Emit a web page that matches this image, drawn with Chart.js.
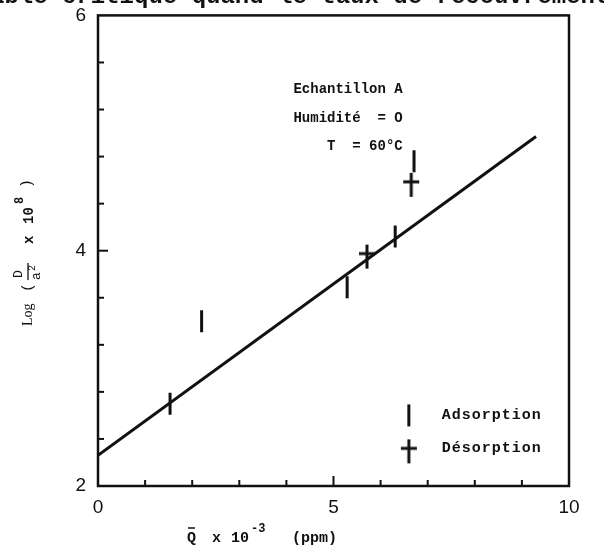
<!DOCTYPE html>
<html>
<head>
<meta charset="utf-8">
<script src="https://cdn.jsdelivr.net/npm/chart.js@4.4.1/dist/chart.umd.min.js"></script>
<style>
html,body{margin:0;padding:0;background:#fff;}
#wrap{width:604px;height:549px;}
</style>
</head>
<body>
<div id="wrap"><canvas id="c" width="604" height="549"></canvas></div>
<script>
// ---- data ----
const adsorptionX = [1.53, 2.2, 5.29, 6.31, 6.71];
const adsorptionY = [2.70, 3.40, 3.69, 4.12, 4.76];
const desorptionX = [5.71, 6.65];
const desorptionY = [3.95, 4.56];
const fitX = [0, 9.3];
const fitY = [2.26, 4.97];
const xTickLabels = [0, 5, 10];
const yTickLabels = [2, 4, 6];
const xMinorTicks = [1, 2, 3, 4, 5, 6, 7, 8, 9];
const yMinorTicks = [2.4, 2.8, 3.2, 3.6, 4.0, 4.4, 4.8, 5.2, 5.6];
const xMajorTick = 5;
const yMajorTick = 4;
const annotationLines = ["Echantillon A", "Humidité  = O", "    T  = 60°C"];
const legendLabels = ["Adsorption", "Désorption"];
const pageHeaderText = "able critique quand le taux de recouvrement";

const INK = '#111';

function toPts(xs, ys){ return xs.map((x,i)=>({x:x, y:ys[i]})); }

// "+" marker with longer vertical arm
function plusMarker(){
  const c = document.createElement('canvas');
  c.width = 18; c.height = 26;
  const g = c.getContext('2d');
  g.strokeStyle = INK; g.lineWidth = 3; g.lineCap = 'butt';
  g.beginPath(); g.moveTo(9,1); g.lineTo(9,25); g.stroke();
  g.beginPath(); g.moveTo(1,10); g.lineTo(17,10); g.stroke();
  return c;
}
const plusImg = plusMarker();

const framePlugin = {
  id: 'frame',
  afterDatasetsDraw(chart){
    const {ctx, chartArea:a, scales:{x, y}} = chart;
    ctx.save();
    ctx.strokeStyle = INK;
    ctx.fillStyle = INK;

    // cut-off line of the scanned page above the figure
    ctx.font = 'bold 24px "Liberation Mono", monospace';
    ctx.textBaseline = 'alphabetic';
    ctx.textAlign = 'left';
    ctx.fillText(pageHeaderText, -10, 3);

    ctx.lineWidth = 2.5;
    ctx.strokeRect(a.left, a.top, a.right - a.left, a.bottom - a.top);
    ctx.lineWidth = 2;
    xMinorTicks.forEach(v=>{
      const px = x.getPixelForValue(v);
      const len = v === xMajorTick ? 10 : 6;
      ctx.beginPath(); ctx.moveTo(px, a.bottom); ctx.lineTo(px, a.bottom - len); ctx.stroke();
    });
    yMinorTicks.forEach(v=>{
      const py = y.getPixelForValue(v);
      const len = Math.abs(v - yMajorTick) < 1e-9 ? 10 : 6;
      ctx.beginPath(); ctx.moveTo(a.left, py); ctx.lineTo(a.left + len, py); ctx.stroke();
    });

    // annotation text
    ctx.font = 'bold 14px "Liberation Mono", "DejaVu Sans Mono", monospace';
    ctx.textBaseline = 'middle';
    const ax = x.getPixelForValue(4.15);
    const ay = y.getPixelForValue(5.37);
    annotationLines.forEach((t,i)=>{ ctx.fillText(t, ax, ay + i*28.5); });

    // legend
    ctx.font = 'bold 15px "Liberation Mono", "DejaVu Sans Mono", monospace';
    ctx.letterSpacing = '1px';
    const lx = x.getPixelForValue(6.6);
    const ly1 = y.getPixelForValue(2.6);
    const ly2 = y.getPixelForValue(2.32);
    ctx.lineWidth = 3;
    ctx.beginPath(); ctx.moveTo(lx, ly1 - 11); ctx.lineTo(lx, ly1 + 11); ctx.stroke();
    ctx.drawImage(plusImg, lx - 9, ly2 - 10);
    ctx.fillText(legendLabels[0], lx + 33, ly1);
    ctx.fillText(legendLabels[1], lx + 33, ly2);
    ctx.letterSpacing = '0px';

    // x title
    const tb = 542;
    ctx.font = 'bold 15px "Liberation Mono", monospace';
    ctx.textBaseline = 'alphabetic';
    ctx.fillText('Q', 187, tb);
    ctx.lineWidth = 1.5;
    ctx.beginPath(); ctx.moveTo(188, tb - 14); ctx.lineTo(195, tb - 14); ctx.stroke();
    ctx.fillText('x', 212, tb);
    ctx.fillText('10', 231, tb);
    ctx.font = 'bold 12px "Liberation Mono", monospace';
    ctx.fillText('-3', 251, tb - 10);
    ctx.font = 'bold 15px "Liberation Mono", monospace';
    ctx.fillText('(ppm)', 292, tb);

    // y title (rotated)
    ctx.save();
    ctx.translate(28, 250);
    ctx.rotate(-Math.PI/2);
    ctx.font = '14px "Liberation Serif", serif';
    ctx.textBaseline = 'middle';
    ctx.fillText('Log', -76, 0);
    ctx.font = '15px "Liberation Mono", monospace';
    ctx.fillText('(', -42, 0);
    ctx.font = '13px "Liberation Mono", monospace';
    ctx.fillText('D', -28, -9);
    ctx.lineWidth = 1.3;
    ctx.beginPath(); ctx.moveTo(-30, 0); ctx.lineTo(-13, 0); ctx.stroke();
    ctx.fillText('a', -30, 9);
    ctx.font = '10px "Liberation Mono", monospace';
    ctx.fillText('2', -21, 4);
    ctx.font = 'bold 14px "Liberation Mono", monospace';
    ctx.fillText('x', 6, 1);
    ctx.fillText('10', 26, 1);
    ctx.font = 'bold 12px "Liberation Mono", monospace';
    ctx.fillText('8', 46, -8);
    ctx.font = '15px "Liberation Mono", monospace';
    ctx.fillText(')', 62, -1);
    ctx.restore();
    ctx.restore();
  }
};

new Chart(document.getElementById('c'), {
  type: 'scatter',
  data: {
    datasets: [
      {
        label: 'fit',
        data: toPts(fitX, fitY),
        showLine: true,
        borderColor: INK,
        borderWidth: 3,
        pointRadius: 0,
        fill: false
      },
      {
        label: legendLabels[0],
        data: toPts(adsorptionX, adsorptionY),
        pointStyle: 'line',
        rotation: 90,
        pointRadius: 11,
        pointHoverRadius: 11,
        borderColor: INK,
        backgroundColor: INK,
        borderWidth: 3
      },
      {
        label: legendLabels[1],
        data: toPts(desorptionX, desorptionY),
        pointStyle: plusImg,
        borderColor: INK,
        backgroundColor: INK
      }
    ]
  },
  options: {
    responsive: false,
    animation: false,
    events: [],
    layout: { padding: { left: 0, right: 35, top: 14, bottom: 0 } },
    plugins: { legend: { display: false }, tooltip: { enabled: false }, title: { display: false } },
    scales: {
      x: {
        type: 'linear', min: 0, max: 10,
        grid: { display: false }, border: { display: false },
        afterBuildTicks: s => { s.ticks = xTickLabels.map(v => ({value: v})); },
        afterFit: s => { s.height = 63; },
        ticks: { color: INK, padding: 2, maxRotation: 0, font: { family: '"Liberation Sans", Arial, sans-serif', size: 19 } }
      },
      y: {
        type: 'linear', min: 2, max: 6,
        grid: { display: false }, border: { display: false },
        afterBuildTicks: s => { s.ticks = yTickLabels.map(v => ({value: v})); },
        afterFit: s => { s.width = 98; },
        ticks: { color: INK, padding: 4, font: { family: '"Liberation Sans", Arial, sans-serif', size: 19 } }
      }
    }
  },
  plugins: [framePlugin]
});
</script>
</body>
</html>
